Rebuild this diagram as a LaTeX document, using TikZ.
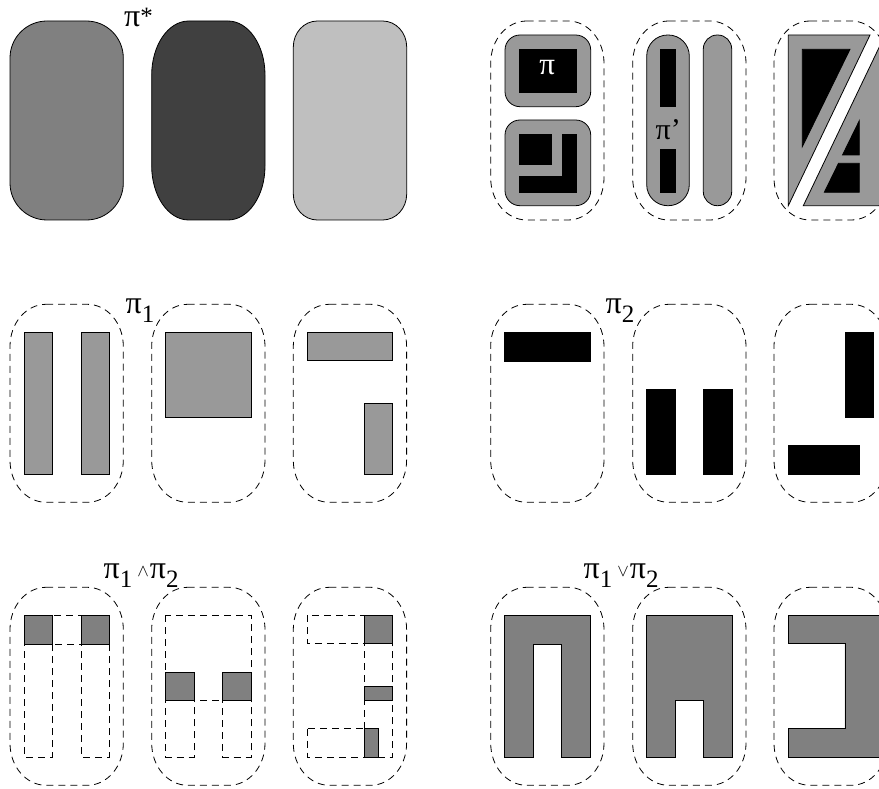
\documentclass[tikz,border=0pt]{standalone}
\usepackage{fontspec}
\setmainfont{Liberation Serif}
\newcommand\ebox[7][]{%
  \pgfmathsetmacro\eXa{#2}\pgfmathsetmacro\eYa{#3}%
  \pgfmathsetmacro\eXb{#4}\pgfmathsetmacro\eYb{#5}%
  \pgfmathsetmacro\eRx{#6}\pgfmathsetmacro\eRy{#7}%
  \pgfmathsetmacro\eKx{0.4477*#6}\pgfmathsetmacro\eKy{0.4477*#7}%
  \draw[#1] (\eXa+\eRx,\eYa) -- (\eXb-\eRx,\eYa)
    .. controls (\eXb-\eKx,\eYa) and (\eXb,\eYa+\eKy) .. (\eXb,\eYa+\eRy)
    -- (\eXb,\eYb-\eRy)
    .. controls (\eXb,\eYb-\eKy) and (\eXb-\eKx,\eYb) .. (\eXb-\eRx,\eYb)
    -- (\eXa+\eRx,\eYb)
    .. controls (\eXa+\eKx,\eYb) and (\eXa,\eYb-\eKy) .. (\eXa,\eYb-\eRy)
    -- (\eXa,\eYa+\eRy)
    .. controls (\eXa,\eYa+\eKy) and (\eXa+\eKx,\eYa) .. (\eXa+\eRx,\eYa) -- cycle;}
\newcommand\pisym{{\fontsize{32}{32}\selectfont π}}
\newcommand\subn[1]{\raisebox{-9pt}{\fontsize{25}{25}\selectfont #1}}
\tikzset{
  outl/.style={draw=black, line width=0.8pt},
  dbox/.style={draw=black, line width=0.8pt, dash pattern=on 7pt off 5pt},
  g60/.style={fill=black!40, outl},
  g50/.style={fill=black!50, outl},
  blk/.style={fill=black, draw=black, line width=0.8pt},
  lbl/.style={inner sep=0pt, anchor=base west, font=\fontsize{25}{25}\selectfont},
}
\begin{document}
\begin{tikzpicture}[x=1pt,y=-1pt]
\useasboundingbox (0,0) rectangle (879,789);
\clip (0,0) rectangle (879,789);
\fill[white] (0,0) rectangle (879,789);

% ---------- top left: pi* ----------
\ebox[outl, fill=black!50]{10}{21}{123.3}{220}{37}{37}
\ebox[outl, fill=black!75]{151.7}{21}{265}{220}{37}{54}
\ebox[outl, fill=black!25]{293.3}{21}{406.7}{220}{24}{26}
\node[lbl] (pistar) at (124,26.7) {\pisym\raisebox{2pt}{*}};

% ---------- top right ----------
\ebox[dbox]{490.7}{21}{604}{220}{36}{42}
\ebox[dbox]{632.7}{21}{746}{220}{36}{42}
\ebox[dbox]{774}{21}{887.3}{220}{36}{42}
% box 1
\draw[g60, rounded corners=15] (505,35) rectangle (590.7,106.7);
\draw[blk] (519,49.3) rectangle (576.7,92.7);
\node[inner sep=0pt, text=white, font=\fontsize{31}{31}\selectfont] (piw) at (547.3,68) {π};
\draw[g60, rounded corners=15] (505,120) rectangle (590.7,205.7);
\draw[blk] (519,134.3) rectangle (551,164);
\draw[blk] (562.3,134.3) -- (576.7,134.3) -- (576.7,192.3) -- (519,192.3) -- (519,176.7) -- (562.3,176.7) -- cycle;
% box 2
\draw[g60, rounded corners=21] (646.7,35) rectangle (689.3,205.7);
\draw[blk] (660.7,49.3) rectangle (675.7,106.7);
\draw[blk] (660.7,149) rectangle (675.7,192.3);
\node[lbl, font=\fontsize{30}{30}\selectfont] (piprime) at (655.5,140) {π’};
\draw[g60, rounded corners=14] (703.3,35) rectangle (731.7,205.7);
% box 3
\draw[g60] (788.3,35) -- (870,35) -- (788.3,205.7) -- cycle;
\draw[blk] (802.3,49.3) -- (850,49.3) -- (802.3,146.7) -- cycle;
\draw[g60] (803.3,205.7) -- (884,205.7) -- (884,37.2) -- cycle;
\draw[blk] (859.3,120.7) -- (859.3,155) -- (842.5,155) -- cycle;
\draw[blk] (838.5,163.3) -- (859.3,163.3) -- (859.3,192.3) -- (824.3,192.3) -- cycle;

% ---------- middle left: pi1 ----------
\node[lbl] (pione) at (125.5,313.3) {\pisym\subn{1}};
\begin{scope}[shift={(10,304.3)}]
  \ebox[dbox]{0}{0}{113.3}{198}{36}{42}
  \draw[g60] (14,28) rectangle (42.4,169.7);
  \draw[g60] (70.9,28) rectangle (99.3,169.7);
\end{scope}
\begin{scope}[shift={(151.7,304.3)}]
  \ebox[dbox]{0}{0}{113.3}{198}{36}{42}
  \draw[g60] (14,28) rectangle (99.3,113.3);
\end{scope}
\begin{scope}[shift={(293.3,304.3)}]
  \ebox[dbox]{0}{0}{113.3}{198}{36}{42}
  \draw[g60] (14,28) rectangle (99.3,56.4);
  \draw[g60] (70.9,99) rectangle (99.3,169.7);
\end{scope}

% ---------- middle right: pi2 ----------
\node[lbl] (pitwo) at (605.5,313.3) {\pisym\subn{2}};
\begin{scope}[shift={(490.7,304.3)}]
  \ebox[dbox]{0}{0}{113.3}{198}{36}{42}
  \draw[blk] (14,28) rectangle (99.3,57);
\end{scope}
\begin{scope}[shift={(632.7,304.3)}]
  \ebox[dbox]{0}{0}{113.3}{198}{36}{42}
  \draw[blk] (14,84.7) rectangle (42.4,169.7);
  \draw[blk] (70.9,84.7) rectangle (99.3,169.7);
\end{scope}
\begin{scope}[shift={(774,304.3)}]
  \ebox[dbox]{0}{0}{113.3}{198}{36}{42}
  \draw[blk] (70.9,28) rectangle (99.3,113.3);
  \draw[blk] (14,141.4) rectangle (85.3,169.7);
\end{scope}

% ---------- bottom left: pi1 and pi2 ----------
\node[lbl] (pimeet) at (103.5,578) {\pisym\subn{1}\hspace{5pt}\raisebox{2pt}{\fontsize{19}{19}\selectfont$\wedge$}\hspace{1pt}\pisym\subn{2}};
\begin{scope}[shift={(10,587.3)}]
  \ebox[dbox]{0}{0}{113.3}{198}{36}{42}
  \draw[dbox] (14,28) rectangle (42.4,169.7);
  \draw[dbox] (70.9,28) rectangle (99.3,169.7);
  \draw[dbox] (14,28) rectangle (99.3,57);
  \draw[g50] (14,28) rectangle (42.4,57);
  \draw[g50] (70.9,28) rectangle (99.3,57);
\end{scope}
\begin{scope}[shift={(151.7,587.3)}]
  \ebox[dbox]{0}{0}{113.3}{198}{36}{42}
  \draw[dbox] (14,28) rectangle (99.3,113.3);
  \draw[dbox] (14,84.7) rectangle (42.4,169.7);
  \draw[dbox] (70.9,84.7) rectangle (99.3,169.7);
  \draw[g50] (14,84.7) rectangle (42.4,113.3);
  \draw[g50] (70.9,84.7) rectangle (99.3,113.3);
\end{scope}
\begin{scope}[shift={(293.3,587.3)}]
  \ebox[dbox]{0}{0}{113.3}{198}{36}{42}
  \draw[dbox] (14,28) rectangle (99.3,56.4);
  \draw[dbox] (70.9,99) rectangle (99.3,169.7);
  \draw[dbox] (70.9,28) rectangle (99.3,113.3);
  \draw[dbox] (14,141.4) rectangle (85.3,169.7);
  \draw[g50] (70.9,28) rectangle (99.3,56.4);
  \draw[g50] (70.9,99) rectangle (99.3,113.3);
  \draw[g50] (70.9,141.4) rectangle (85.3,169.7);
\end{scope}

% ---------- bottom right: pi1 or pi2 ----------
\node[lbl] (pijoin) at (583.5,578) {\pisym\subn{1}\hspace{5pt}\raisebox{2pt}{\fontsize{19}{19}\selectfont$\vee$}\hspace{1pt}\pisym\subn{2}};
\begin{scope}[shift={(490.7,587.3)}]
  \ebox[dbox]{0}{0}{113.3}{198}{36}{42}
  \draw[g50] (14,169.7) -- (14,28) -- (99.3,28) -- (99.3,169.7) -- (70.9,169.7) -- (70.9,57) -- (42.4,57) -- (42.4,169.7) -- cycle;
\end{scope}
\begin{scope}[shift={(632.7,587.3)}]
  \ebox[dbox]{0}{0}{113.3}{198}{36}{42}
  \draw[g50] (14,169.7) -- (14,28) -- (99.3,28) -- (99.3,169.7) -- (70.9,169.7) -- (70.9,113.3) -- (42.4,113.3) -- (42.4,169.7) -- cycle;
\end{scope}
\begin{scope}[shift={(774,587.3)}]
  \ebox[dbox]{0}{0}{113.3}{198}{36}{42}
  \draw[g50] (14,28) -- (110,28) -- (110,169.7) -- (14,169.7) -- (14,141.4) -- (70.9,141.4) -- (70.9,56.4) -- (14,56.4) -- cycle;
\end{scope}
\end{tikzpicture}
\end{document}
